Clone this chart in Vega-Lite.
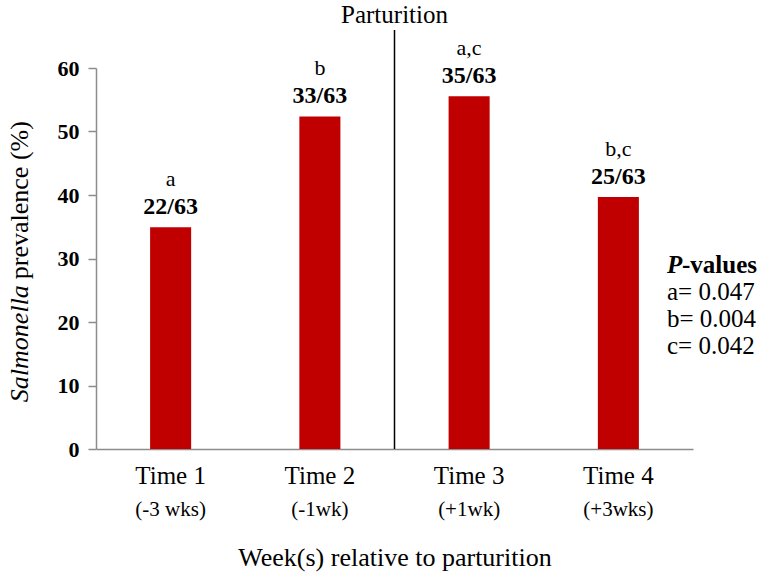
{
  "$schema": "https://vega.github.io/schema/vega-lite/v6.json",
  "width": 597,
  "height": 381,
  "autosize": "none",
  "padding": {"left": 96, "top": 68, "right": 73, "bottom": 129},
  "config": {"view": {"stroke": null}, "font": "'Liberation Serif', 'Times New Roman', serif"},
  "data": {"values": [
    {"time": "Time 1", "sub": "(-3 wks)", "prevalence": 34.92, "count": "22/63", "letter": "a"},
    {"time": "Time 2", "sub": "(-1wk)", "prevalence": 52.38, "count": "33/63", "letter": "b"},
    {"time": "Time 3", "sub": "(+1wk)", "prevalence": 55.56, "count": "35/63", "letter": "a,c"},
    {"time": "Time 4", "sub": "(+3wks)", "prevalence": 39.68, "count": "25/63", "letter": "b,c"}
  ]},
  "layer": [
    {
      "mark": {"type": "bar", "color": "#C00000", "width": {"band": 0.275}},
      "encoding": {
        "x": {"field": "time", "type": "nominal", "sort": null,
          "scale": {"domain": ["Time 1", "Time 2", "Time 3", "Time 4"], "paddingInner": 0, "paddingOuter": 0},
          "axis": {"title": "Week(s) relative to parturition", "labelAngle": 0, "ticks": false, "tickSize": 0,
            "labelFont": "'Liberation Serif', 'Times New Roman', serif", "labelFontSize": 25, "labelColor": "#000", "labelPadding": 14,
            "domainColor": "#8c8c8c", "domainWidth": 1.5,
            "titleFont": "'Liberation Serif', 'Times New Roman', serif", "titleFontSize": 26, "titleFontWeight": "normal", "titleColor": "#000", "titlePadding": 56}},
        "y": {"field": "prevalence", "type": "quantitative",
          "scale": {"domain": [0, 60], "nice": false},
          "axis": {"title": null, "values": [0, 10, 20, 30, 40, 50, 60], "grid": false,
            "domainColor": "#8c8c8c", "domainWidth": 1.5, "tickColor": "#8c8c8c", "tickSize": 8, "tickWidth": 1.5,
            "labelFont": "'Liberation Serif', 'Times New Roman', serif", "labelFontSize": 22, "labelFontWeight": "bold", "labelColor": "#000", "labelPadding": 9}}
      }
    },
    {
      "mark": {"type": "text", "font": "'Liberation Serif', 'Times New Roman', serif", "fontSize": 24, "fontWeight": "bold", "baseline": "alphabetic", "dy": -13, "color": "#000"},
      "encoding": {
        "x": {"field": "time", "type": "nominal"},
        "y": {"field": "prevalence", "type": "quantitative"},
        "text": {"field": "count"}
      }
    },
    {
      "mark": {"type": "text", "font": "'Liberation Serif', 'Times New Roman', serif", "fontSize": 22, "baseline": "alphabetic", "dy": -41, "color": "#000"},
      "encoding": {
        "x": {"field": "time", "type": "nominal"},
        "y": {"field": "prevalence", "type": "quantitative"},
        "text": {"field": "letter"}
      }
    },
    {
      "mark": {"type": "text", "font": "'Liberation Serif', 'Times New Roman', serif", "fontSize": 21, "baseline": "middle", "dy": 61, "color": "#000"},
      "encoding": {
        "x": {"field": "time", "type": "nominal"},
        "y": {"datum": 0, "type": "quantitative"},
        "text": {"field": "sub"}
      }
    },
    {
      "data": {"values": [{}]},
      "mark": {"type": "rule", "color": "#000", "strokeWidth": 1.5},
      "encoding": {
        "x": {"datum": "Time 3", "type": "nominal", "bandPosition": 0},
        "y": {"datum": 0, "type": "quantitative"},
        "y2": {"datum": 66}
      }
    },
    {
      "data": {"values": [{}]},
      "mark": {"type": "text", "font": "'Liberation Serif', 'Times New Roman', serif", "fontSize": 25, "baseline": "middle", "dy": -15, "color": "#000", "text": "Parturition"},
      "encoding": {
        "x": {"datum": "Time 3", "type": "nominal", "bandPosition": 0},
        "y": {"datum": 66, "type": "quantitative"}
      }
    },
    {
      "data": {"values": [{}]},
      "mark": {"type": "text", "font": "'Liberation Serif', 'Times New Roman', serif", "fontSize": 26, "fontStyle": "italic", "angle": 270, "align": "right", "baseline": "middle", "dy": -76, "color": "#000", "text": "Salmonella"},
      "encoding": {
        "x": {"datum": "Time 1", "type": "nominal", "bandPosition": 0},
        "y": {"datum": 25.8, "type": "quantitative"}
      }
    },
    {
      "data": {"values": [{}]},
      "mark": {"type": "text", "font": "'Liberation Serif', 'Times New Roman', serif", "fontSize": 26, "angle": 270, "align": "left", "baseline": "middle", "dx": 6, "dy": -76, "color": "#000", "text": "prevalence (%)"},
      "encoding": {
        "x": {"datum": "Time 1", "type": "nominal", "bandPosition": 0},
        "y": {"datum": 25.8, "type": "quantitative"}
      }
    },
    {
      "data": {"values": [{}]},
      "mark": {"type": "text", "font": "'Liberation Serif', 'Times New Roman', serif", "fontSize": 25, "fontStyle": "italic", "fontWeight": "bold", "align": "left", "baseline": "middle", "dx": -26, "color": "#000", "text": "P"},
      "encoding": {
        "x": {"datum": "Time 4", "type": "nominal", "bandPosition": 1},
        "y": {"datum": 29.0, "type": "quantitative"}
      }
    },
    {
      "data": {"values": [{}]},
      "mark": {"type": "text", "font": "'Liberation Serif', 'Times New Roman', serif", "fontSize": 25, "fontWeight": "bold", "align": "left", "baseline": "middle", "dx": -11, "color": "#000", "text": "-values"},
      "encoding": {
        "x": {"datum": "Time 4", "type": "nominal", "bandPosition": 1},
        "y": {"datum": 29.0, "type": "quantitative"}
      }
    },
    {
      "data": {"values": [{}]},
      "mark": {"type": "text", "font": "'Liberation Serif', 'Times New Roman', serif", "fontSize": 25, "align": "left", "baseline": "middle", "lineHeight": 27, "dx": -26, "color": "#000", "text": ["a= 0.047", "b= 0.004", "c= 0.042"]},
      "encoding": {
        "x": {"datum": "Time 4", "type": "nominal", "bandPosition": 1},
        "y": {"datum": 24.7, "type": "quantitative"}
      }
    }
  ]
}
